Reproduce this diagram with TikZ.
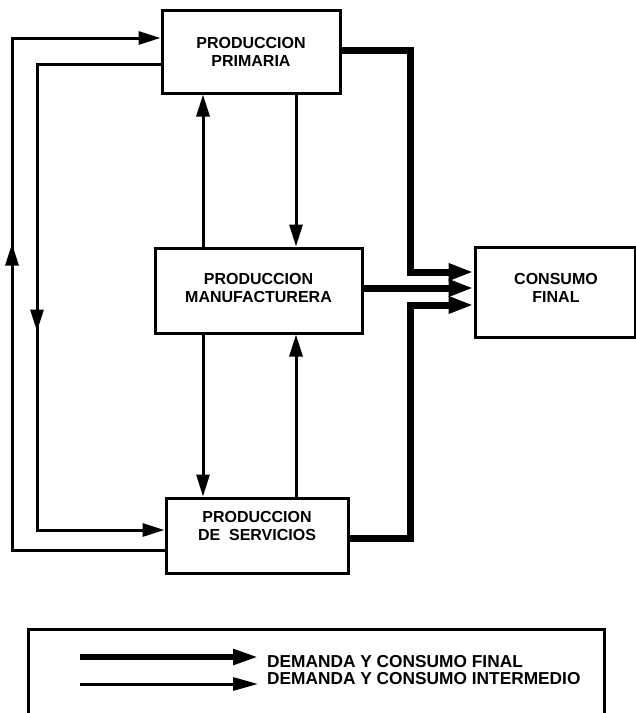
\documentclass[tikz,border=0pt]{standalone}
\usepackage{fontspec}
\setmainfont{Liberation Sans}
\usetikzlibrary{arrows.meta,decorations.markings,calc}
\begin{document}
\begin{tikzpicture}[x=1pt,y=-1pt,
  box/.style={draw,line width=3pt,inner sep=0pt},
  lbl/.style={font=\bfseries\fontsize{16}{18}\selectfont,align=center,inner sep=0pt},
  thintip/.style={-{Triangle[length=22pt,width=13pt]}},
  thinarr/.style={line width=3pt,line join=miter,thintip},
  thickarr/.style={line width=7pt,line join=miter,-{Triangle[length=25pt,width=16pt]}},
]
\useasboundingbox (0,0) rectangle (636,713);
% boxes
\node[box,minimum width=178pt,minimum height=83pt] (prim) at (251,51.5) {};
\node[box,minimum width=207pt,minimum height=85pt] (manu) at (258.5,290.5) {};
\node[box,minimum width=182pt,minimum height=75pt] (serv) at (257,535.5) {};
\node[box,minimum width=160pt,minimum height=90pt] (cons) at (555,292) {};
\node[box,minimum width=576pt,minimum height=110pt,anchor=north west] (leg) at (27,628) {};
% labels
\node[lbl] (primt) at (251,52) {PRODUCCION\\PRIMARIA};
\node[lbl] (manut) at (258.5,288) {PRODUCCION\\MANUFACTURERA};
\node[lbl] (servt) at (257,526) {PRODUCCION\\DE\ \ SERVICIOS};
\node[lbl] (const) at (556,288) {CONSUMO\\FINAL};
% helper coordinates
\coordinate (xa) at (203,0);
\coordinate (xb) at (296,0);
\coordinate (xo) at (12,0);
\coordinate (xi) at (37,0);
\coordinate (xt) at (410,0);
% vertical intermediate arrows
\draw[thinarr] (manu.north -| xa) -- (prim.south -| xa);
\draw[thinarr] (prim.south -| xb) -- (manu.north -| xb);
\draw[thinarr] (manu.south -| xa) -- (serv.north -| xa);
\draw[thinarr] (serv.north -| xb) -- (manu.south -| xb);
% outer loop: servicios -> primaria
\coordinate (s1) at ([yshift=-14.5pt]serv.west);
\coordinate (p1) at ([yshift=13.5pt]prim.west);
\draw[thinarr,
  decoration={markings,mark=at position 459pt with {\arrow{Triangle[length=22pt,width=13pt]}}},
  postaction={decorate}]
  (s1) -- (s1 -| xo) -- (p1 -| xo) -- (p1);
% inner loop: primaria -> servicios
\coordinate (p2) at ([yshift=-12.5pt]prim.west);
\coordinate (s2) at ([yshift=5.5pt]serv.west);
\draw[thinarr,
  decoration={markings,mark=at position 391pt with {\arrow{Triangle[length=22pt,width=13pt]}}},
  postaction={decorate}]
  (p2) -- (p2 -| xi) -- (s2 -| xi) -- (s2);
% final demand (thick)
\coordinate (p3) at ([yshift=1.5pt]prim.east);
\coordinate (c1) at ([yshift=20pt]cons.west);
\draw[thickarr] (p3) -- (p3 -| xt) -- (c1 -| xt) -- (c1);
\coordinate (m3) at ([yshift=2.5pt]manu.east);
\draw[thickarr] (m3) -- (m3 -| cons.west);
\coordinate (s3) at ([yshift=-2.5pt]serv.east);
\coordinate (c3) at ([yshift=-13pt]cons.west);
\draw[thickarr] (s3) -- (s3 -| xt) -- (c3 -| xt) -- (c3);
% legend
\coordinate (la1) at (80,657);
\coordinate (la2) at (258,657);
\coordinate (lb1) at (80,684);
\coordinate (lb2) at (258,684);
\draw[line width=5.5pt,-{Triangle[length=25pt,width=15pt]}] (la1) -- (la2);
\draw[line width=3pt,-{Triangle[length=25pt,width=13pt]}] (lb1) -- (lb2);
\node[lbl,align=left,anchor=west,font=\bfseries\fontsize{17.3}{16.5}\selectfont] (legt) at (267,670)
  {DEMANDA Y CONSUMO FINAL\\DEMANDA Y CONSUMO INTERMEDIO};
\end{tikzpicture}
\end{document}
